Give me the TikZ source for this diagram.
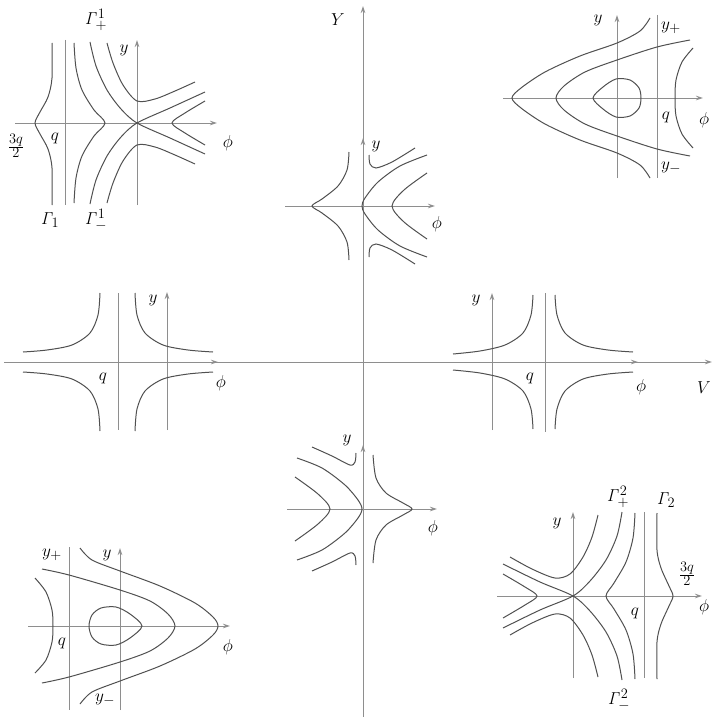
\documentclass[tikz,border=0pt]{standalone}
\usepackage{amsmath}
\usetikzlibrary{arrows.meta}
\definecolor{AxisGray}{HTML}{8E8E8E}
\definecolor{OrbitGray}{HTML}{505050}

\begin{document}
\begin{tikzpicture}[x=1pt,y=-1pt,
    axis/.style={draw=AxisGray,line width=1pt},
    tip/.style={axis,-{Stealth[length=7pt,width=4.5pt]}},
    pole/.style={draw=AxisGray,line width=1pt},
    orbit/.style={draw=OrbitGray,line width=1pt},
    lab/.style={inner sep=0pt,font=\fontsize{19}{22}\selectfont}
  ]
  \useasboundingbox (0,0) rectangle (713,717);

  % main axes
  \draw[tip] (363,717) -- (363,6);
  \draw[tip] (4,362) -- (712,362);
  \node[lab] (mainY) at (338,20) {$Y$};
  \node[lab] (mainV) at (704,388) {$V$};

  % top left
  \draw[tip] (137,205) -- (137,40);
  \draw[tip] (15,123) -- (217,123);
  \draw[pole] (65,40) -- (65,205);
  \draw[orbit] plot[smooth] coordinates {(52,43) (52,78) (48,97) (40,112) (35,123) (40,134) (48,149) (52,168) (52,205)};
  \draw[orbit] plot[smooth] coordinates {(74,43) (76,68) (82,90) (94,110) (105,123) (94,136) (82,156) (76,178) (74,203)};
  \draw[orbit] plot[smooth] coordinates {(90,42) (96,66) (107,90) (121,109) (137,123) (170,138) (205,154)};
  \draw[orbit] plot[smooth] coordinates {(90,204) (96,180) (107,156) (121,137) (137,123) (170,108) (205,92)};
  \draw[orbit] plot[smooth] coordinates {(107,43) (113,63) (123,85) (137,101) (155,99) (175,91) (195,82)};
  \draw[orbit] plot[smooth] coordinates {(107,203) (113,183) (123,161) (137,145) (155,147) (175,155) (195,164)};
  \draw[orbit] plot[smooth] coordinates {(205,101) (185,113) (172,123) (185,133) (205,145)};
  \node[lab] (tlGp) at (96,20) {$\mathit{\Gamma}^{1}_{+}$};
  \node[lab] (tlY) at (124,50) {$y$};
  \node[lab] (tlPhi) at (228,143) {$\phi$};
  \node[lab] (tlQ) at (55,138) {$q$};
  \node[lab] (tlTq) at (16,146) {$\frac{3q}{2}$};
  \node[lab] (tlG) at (50,220) {$\mathit{\Gamma}_{1}$};
  \node[lab] (tlGm) at (96,220) {$\mathit{\Gamma}^{1}_{-}$};

  % top right
  \draw[tip] (617,178) -- (617,15);
  \draw[tip] (503,98) -- (703,98);
  \draw[pole] (657,15) -- (657,178);
  \draw[orbit] plot[smooth cycle] coordinates {(593,98) (603,87) (616,79) (630,80) (639,88) (641,98) (639,108) (630,116) (616,117) (603,109)};
  \draw[orbit] plot[smooth] coordinates {(690,40) (657,47) (617,60) (585,72) (564,86) (556,98) (564,110) (585,124) (617,136) (657,149) (690,156)};
  \draw[orbit] plot[smooth] coordinates {(650,18) (640,31) (617,43) (580,56) (545,72) (521,88) (512,98) (521,108) (545,124) (580,140) (617,153) (640,165) (650,178)};
  \draw[orbit] plot[smooth] coordinates {(693,48) (682,62) (676,80) (675,98) (676,116) (682,134) (693,148)};
  \node[lab] (trY) at (598,20) {$y$};
  \node[lab] (trYp) at (671,28) {$y_{+}$};
  \node[lab] (trQ) at (666,117) {$q$};
  \node[lab] (trPhi) at (704,120) {$\phi$};
  \node[lab] (trYm) at (671,168) {$y_{-}$};

  % top centre
  \draw[tip] (363,180) -- (363,138);
  \draw[tip] (285,206) -- (435,206);
  \draw[orbit] plot[smooth] coordinates {(349,152) (347,170) (338,186) (322,199) (312,206) (322,213) (338,226) (347,242) (349,260)};
  \draw[orbit] plot[smooth] coordinates {(427,155) (400,166) (378,182) (365,198) (362,206) (365,214) (378,230) (400,246) (427,257)};
  \draw[orbit] plot[smooth] coordinates {(369,155) (370,164) (376,168) (392,162) (415,148)};
  \draw[orbit] plot[smooth] coordinates {(369,257) (370,248) (376,244) (392,250) (415,264)};
  \draw[orbit] plot[smooth] coordinates {(427,173) (404,190) (392,206) (404,222) (427,239)};
  \node[lab] (tcY) at (376,146) {$y$};
  \node[lab] (tcPhi) at (437,224) {$\phi$};

  % middle left
  \draw[tip] (167,430) -- (167,292);
  \draw[pole] (118,293) -- (118,430);
  \draw[tip] (195,362) -- (218,362);
  \draw[orbit] plot[smooth] coordinates {(100,293) (98,315) (90,333) (72,345) (47,350) (23,352)};
  \draw[orbit] plot[smooth] coordinates {(100,431) (98,409) (90,391) (72,379) (47,374) (23,372)};
  \draw[orbit] plot[smooth] coordinates {(135,293) (137,315) (145,333) (163,345) (188,350) (213,352)};
  \draw[orbit] plot[smooth] coordinates {(135,431) (137,409) (145,391) (163,379) (188,374) (213,372)};
  \node[lab] (mlY) at (153,300) {$y$};
  \node[lab] (mlQ) at (103,378) {$q$};
  \node[lab] (mlPhi) at (221,383) {$\phi$};

  % middle right
  \draw[tip] (492,430) -- (492,293);
  \draw[pole] (545,293) -- (545,432);
  \draw[tip] (615,362) -- (638,362);
  \draw[orbit] plot[smooth] coordinates {(533,295) (531,315) (523,333) (505,345) (480,351) (453,354)};
  \draw[orbit] plot[smooth] coordinates {(533,429) (531,409) (523,391) (505,379) (480,373) (453,370)};
  \draw[orbit] plot[smooth] coordinates {(555,295) (557,315) (565,333) (583,345) (608,350) (633,352)};
  \draw[orbit] plot[smooth] coordinates {(555,429) (557,409) (565,391) (583,379) (608,374) (633,372)};
  \node[lab] (mrY) at (476,300) {$y$};
  \node[lab] (mrQ) at (530,378) {$q$};
  \node[lab] (mrPhi) at (641,387) {$\phi$};

  % bottom centre
  \draw[tip] (363,475) -- (363,445);
  \draw[tip] (287,509) -- (437,509);
  \draw[orbit] plot[smooth] coordinates {(373,455) (376,478) (386,493) (403,503) (412,509) (403,515) (386,525) (376,540) (373,563)};
  \draw[orbit] plot[smooth] coordinates {(297,458) (322,468) (345,485) (358,500) (362,509) (358,518) (345,533) (322,550) (297,560)};
  \draw[orbit] plot[smooth] coordinates {(312,447) (332,456) (350,465) (355,462) (356,453)};
  \draw[orbit] plot[smooth] coordinates {(312,571) (332,562) (350,553) (355,556) (356,565)};
  \draw[orbit] plot[smooth] coordinates {(295,477) (318,494) (330,509) (318,524) (295,541)};
  \node[lab] (bcY) at (347,440) {$y$};
  \node[lab] (bcPhi) at (433,528) {$\phi$};

  % bottom left
  \draw[tip] (120,710) -- (120,548);
  \draw[tip] (28,626) -- (230,626);
  \draw[pole] (69,547) -- (69,710);
  \draw[orbit] plot[smooth cycle] coordinates {(142,626) (130,614) (116,607) (101,608) (92,615) (89,626) (92,637) (101,644) (116,645) (130,638)};
  \draw[orbit] plot[smooth] coordinates {(42,569) (69,575) (120,590) (150,601) (168,614) (175,626) (168,638) (150,651) (120,662) (69,677) (42,683)};
  \draw[orbit] plot[smooth] coordinates {(80,548) (92,560) (120,571) (160,586) (195,603) (213,617) (218,626) (213,635) (195,649) (160,666) (120,681) (92,692) (80,704)};
  \draw[orbit] plot[smooth] coordinates {(35,578) (46,592) (52,610) (53,626) (52,642) (46,660) (35,673)};
  \node[lab] (blYp) at (52,555) {$y_{+}$};
  \node[lab] (blY) at (107,555) {$y$};
  \node[lab] (blQ) at (62,643) {$q$};
  \node[lab] (blPhi) at (228,647) {$\phi$};
  \node[lab] (blYm) at (105,700) {$y_{-}$};

  % bottom right
  \draw[tip] (573,678) -- (573,512);
  \draw[tip] (497,596) -- (702,596);
  \draw[pole] (644,512) -- (644,678);
  \draw[orbit] plot[smooth] coordinates {(657,513) (657,550) (661,568) (669,586) (673,596) (669,606) (661,624) (657,642) (657,679)};
  \draw[orbit] plot[smooth] coordinates {(635,513) (633,538) (626,562) (614,583) (606,596) (614,609) (626,630) (633,654) (635,679)};
  \draw[orbit] plot[smooth] coordinates {(622,512) (617,536) (606,560) (590,581) (573,596) (540,610) (503,628)};
  \draw[orbit] plot[smooth] coordinates {(622,680) (617,656) (606,632) (590,611) (573,596) (540,582) (503,564)};
  \draw[orbit] plot[smooth] coordinates {(598,515) (592,537) (583,557) (570,574) (555,578) (532,569) (510,557)};
  \draw[orbit] plot[smooth] coordinates {(598,677) (592,655) (583,635) (570,618) (555,614) (532,623) (510,635)};
  \draw[orbit] plot[smooth] coordinates {(503,574) (525,587) (537,596) (525,605) (503,618)};
  \node[lab] (brGp) at (618,497) {$\mathit{\Gamma}^{2}_{+}$};
  \node[lab] (brG) at (666,500) {$\mathit{\Gamma}_{2}$};
  \node[lab] (brY) at (557,523) {$y$};
  \node[lab] (brTq) at (687,574) {$\frac{3q}{2}$};
  \node[lab] (brQ) at (635,613) {$q$};
  \node[lab] (brPhi) at (704,607) {$\phi$};
  \node[lab] (brGm) at (619,700) {$\mathit{\Gamma}^{2}_{-}$};
\end{tikzpicture}
\end{document}
